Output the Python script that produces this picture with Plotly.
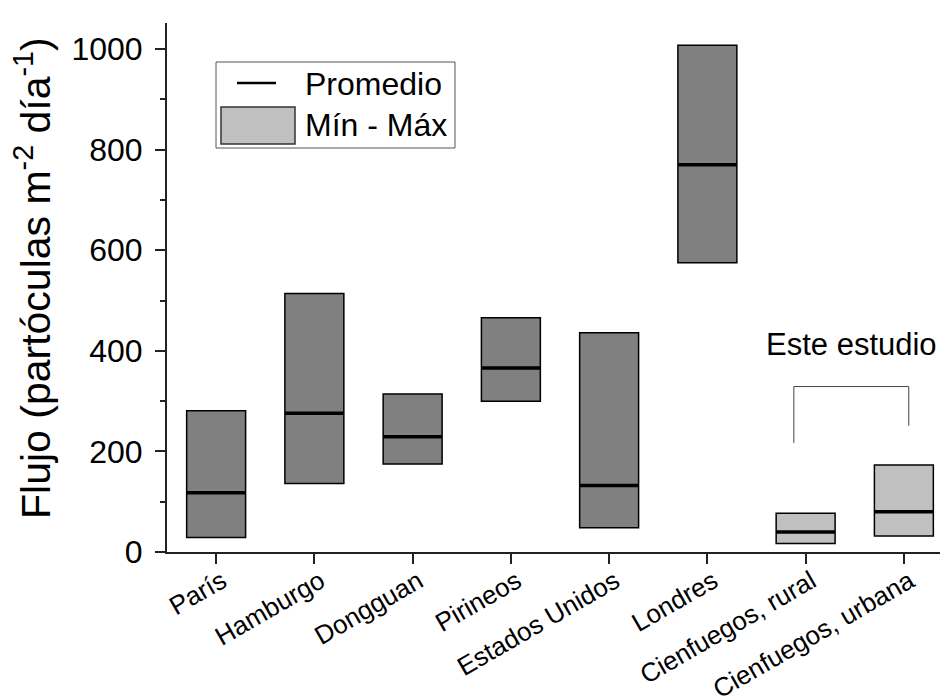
import plotly.graph_objects as go

categories = ["París", "Hamburgo", "Dongguan", "Pirineos", "Estados Unidos",
              "Londres", "Cienfuegos, rural", "Cienfuegos, urbana"]
min_vals = [29, 136, 175, 300, 48, 575, 17, 32]
max_vals = [281, 514, 314, 466, 436, 1008, 77, 173]
mean_vals = [118, 276, 229, 366, 132, 770, 40, 80]
this_study = [False, False, False, False, False, False, True, True]
y_ticks = [0, 200, 400, 600, 800, 1000]
y_minor = [100, 300, 500, 700, 900]

W, H = 948, 696
L, R, T, B = 159, 3, 15, 152
PW, PH = W - L - R, H - T - B

def px(x):
    return (x - L) / PW

def py(y):
    return (H - B - y) / PH

FONT = "Liberation Sans, Arial, sans-serif"

fig = go.Figure()

for flag, color in [(False, "#808080"), (True, "#c0c0c0")]:
    idx = [i for i in range(len(categories)) if this_study[i] == flag]
    fig.add_trace(go.Bar(
        x=[i for i in idx],
        y=[max_vals[i] - min_vals[i] for i in idx],
        base=[min_vals[i] for i in idx],
        width=0.6,
        marker=dict(color=color, line=dict(color="black", width=1.5)),
        showlegend=False,
        hoverinfo="skip",
    ))

fig.add_trace(go.Scatter(
    x=list(range(len(categories))),
    y=mean_vals,
    mode="markers",
    marker=dict(symbol="line-ew", size=42, line=dict(color="black", width=3.5)),
    showlegend=False,
))

# bracket for "Este estudio"
fig.add_shape(type="path",
              path="M 5.88,217 L 5.88,329 L 7.05,329 L 7.05,251",
              xref="x", yref="y", line=dict(color="#444444", width=1))
fig.add_annotation(x=6.47, y=413, xref="x", yref="y", text="Este estudio",
                   showarrow=False, font=dict(size=31, color="black", family=FONT))

# y axis title
fig.add_annotation(x=px(25), y=py(270), xref="paper", yref="paper",
                   text="Flujo (partóculas m<sup>-2</sup> día<sup>-1</sup>)",
                   textangle=-90, xanchor="center", yanchor="middle", showarrow=False,
                   font=dict(size=41, color="black", family=FONT))

# extension of x axis to the left of the y axis
fig.add_shape(type="line", xref="paper", yref="paper",
              x0=px(148), x1=0, y0=0, y1=0, line=dict(color="#222222", width=2))

# manual legend
fig.add_shape(type="rect", xref="paper", yref="paper",
              x0=px(208), x1=px(447), y0=py(140), y1=py(54),
              line=dict(color="#555555", width=1), fillcolor="white")
fig.add_shape(type="line", xref="paper", yref="paper",
              x0=px(229), x1=px(268), y0=py(75), y1=py(75),
              line=dict(color="black", width=2.5))
fig.add_shape(type="rect", xref="paper", yref="paper",
              x0=px(213), x1=px(287), y0=py(136), y1=py(99),
              line=dict(color="#333333", width=1.5), fillcolor="#c0c0c0")
fig.add_annotation(x=px(295), y=py(76), xref="paper", yref="paper", text="Promedio",
                   xanchor="left", yanchor="middle", showarrow=False,
                   font=dict(size=32, color="black", family=FONT))
fig.add_annotation(x=px(295), y=py(117), xref="paper", yref="paper", text="Mín - Máx",
                   xanchor="left", yanchor="middle", showarrow=False,
                   font=dict(size=32, color="black", family=FONT))

fig.update_layout(
    width=W, height=H,
    margin=dict(l=L, r=R, t=T, b=B, autoexpand=False),
    plot_bgcolor="white", paper_bgcolor="white",
    barmode="overlay",
    font=dict(family=FONT, color="black"),
    showlegend=False,
)
fig.update_xaxes(
    range=[-0.5, 7.5], automargin=False,
    tickmode="array", tickvals=list(range(len(categories))), ticktext=categories,
    tickangle=-30, tickfont=dict(size=26, family=FONT),
    ticklabelstandoff=-8, ticklabelshift=6,
    ticks="outside", ticklen=10, tickwidth=2, tickcolor="#222222",
    showline=True, linecolor="#222222", linewidth=2,
    showgrid=False, zeroline=False,
)
fig.update_yaxes(
    range=[0, 1052], automargin=False,
    tickmode="array", tickvals=y_ticks,
    tickfont=dict(size=32, family=FONT), ticklabelstandoff=6,
    ticks="outside", ticklen=10, tickwidth=2, tickcolor="#222222",
    minor=dict(tickvals=y_minor, ticks="outside", ticklen=5,
               tickwidth=2, tickcolor="#222222"),
    showline=True, linecolor="#222222", linewidth=2,
    showgrid=False, zeroline=False,
)

fig.write_html("out.html")
